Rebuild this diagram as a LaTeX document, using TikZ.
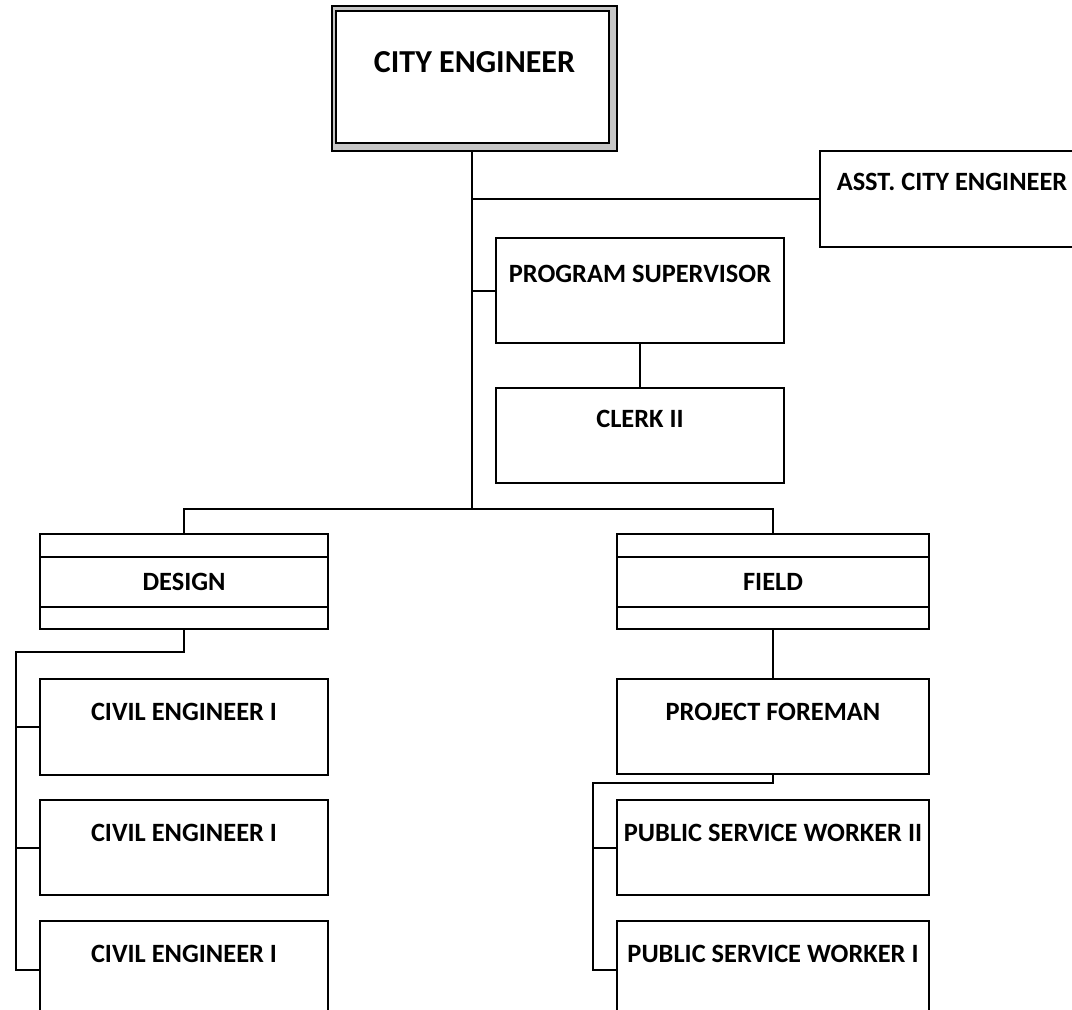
\documentclass[tikz,border=0pt]{standalone}
\usepackage{fontspec}
\setmainfont{Carlito}
\usetikzlibrary{positioning}

\begin{document}
\begin{tikzpicture}[
            x = 0.5pt,
            y = -0.5pt,
            line width = 1pt,
            font = \bfseries\fontsize{13.2}{16}\selectfont,
            post/.style = {draw, anchor = north west, inner sep = 0pt, text height = 20.5pt},
            unit/.style = {draw, anchor = north west, inner sep = 0pt, minimum height = 47.5pt, text height = 8.5pt, text depth = 0pt},
            chief/.style = {draw, anchor = north west, inner sep = 0pt, fill = gray!45,
                font = \bfseries\fontsize{16}{19}\selectfont,
                path picture = {\draw[line width = .8pt, fill = white]
                    ([shift = {(2pt,-2.5pt)}]path picture bounding box.north west) rectangle
                    ([shift = {(-4pt,4pt)}]path picture bounding box.south east);}}
        ]
        \useasboundingbox (0,0) rectangle (1072,1009);
        \clip (0,0) rectangle (1072,1009);

        \node[chief, minimum width = 142.5pt, text height = 33pt, text depth = 39.5pt] (chief) at (331,5) {CITY ENGINEER};
        \node[post, minimum width = 132pt, text height = 19.5pt, text depth = 28.5pt] (asst) at (819,150) {ASST. CITY ENGINEER};
        \node[post, minimum width = 144pt, text height = 22pt, text depth = 30.5pt] (ps) at (495,237) {PROGRAM SUPERVISOR};
        \node[post, below = 21.5pt of ps, minimum width = 144pt, text height = 19.5pt, text depth = 28pt] (clerk) {CLERK II};

        \node[unit, minimum width = 144pt] (design) at (39,533) {DESIGN};
        \node[unit, minimum width = 156pt] (field) at (616,533) {FIELD};

        \node[post, below = 24pt of design, minimum width = 144pt, text depth = 27.5pt] (ce1) {CIVIL ENGINEER I};
        \node[post, below = 11.5pt of ce1, minimum width = 144pt, text depth = 27pt] (ce2) {CIVIL ENGINEER I};
        \node[post, below = 12pt of ce2, minimum width = 144pt, text depth = 28pt] (ce3) {CIVIL ENGINEER I};

        \node[post, below = 24pt of field, minimum width = 156pt, text depth = 27pt] (pf) {PROJECT FOREMAN};
        \node[post, below = 12pt of pf, minimum width = 156pt, text depth = 27pt] (psw2) {PUBLIC SERVICE WORKER II};
        \node[post, below = 12pt of psw2, minimum width = 156pt, text depth = 28pt] (psw1) {PUBLIC SERVICE WORKER I};

        \foreach \u in {design, field} {
            \draw ([yshift = -12pt]\u.north west) -- ([yshift = -12pt]\u.north east);
            \draw ([yshift = 11.5pt]\u.south west) -- ([yshift = 11.5pt]\u.south east);
        }

        \coordinate (spine) at ([xshift = -1.5pt]chief.south);
        \coordinate (bar) at (spine |- 0,509);
        \coordinate (dturn) at (16,652);
        \coordinate (fturn) at (593,783);

        \draw (spine) -- (bar);
        \draw (spine |- asst.west) -- (asst.west);
        \draw (spine |- ps.west) -- (ps.west);
        \draw (ps.south) -- (clerk.north);
        \draw (design.north) |- (bar) -| (field.north);

        \draw (design.south) |- (dturn) |- (ce3.west);
        \draw (dturn |- ce1.west) -- (ce1.west);
        \draw (dturn |- ce2.west) -- (ce2.west);

        \draw (field.south) -- (pf.north);
        \draw (pf.south) |- (fturn) |- (psw1.west);
        \draw (fturn |- psw2.west) -- (psw2.west);
    \end{tikzpicture}
\end{document}
